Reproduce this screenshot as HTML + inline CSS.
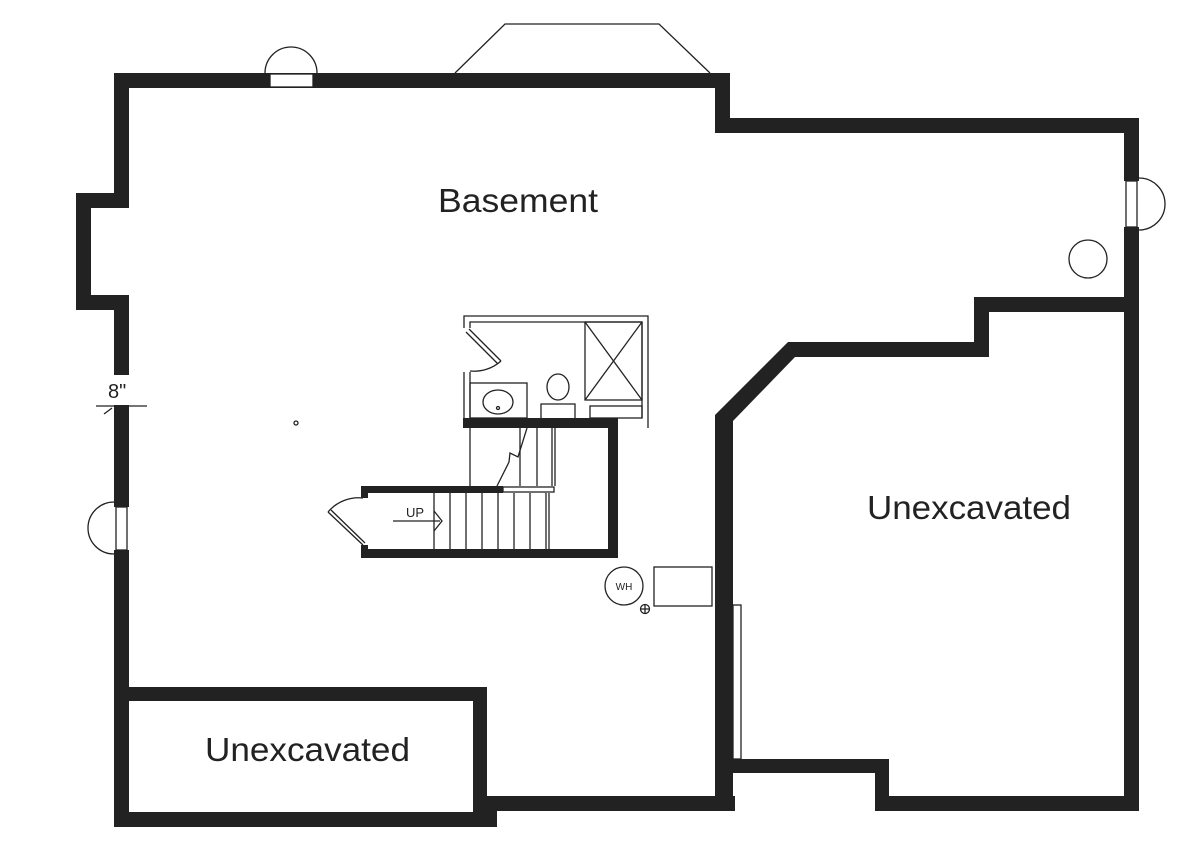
<!DOCTYPE html>
<html><head><meta charset="utf-8"><style>html,body{margin:0;padding:0;background:#fff}svg{display:block}</style></head>
<body>
<svg width="1200" height="861" viewBox="0 0 1200 861" xmlns="http://www.w3.org/2000/svg" font-family="Liberation Sans, sans-serif">
<rect width="1200" height="861" fill="#fff"/>
<g fill="#222">
<rect x="114" y="73" width="616" height="15"/>
<rect x="715" y="73" width="15" height="60"/>
<rect x="715" y="118" width="424" height="15"/>
<rect x="1124" y="118" width="15" height="63"/>
<rect x="1124" y="227" width="15" height="584"/>
<rect x="114" y="73" width="15" height="135"/>
<rect x="76" y="193" width="53" height="15"/>
<rect x="76" y="193" width="15" height="117"/>
<rect x="76" y="295" width="53" height="15"/>
<rect x="114" y="295" width="15" height="80"/>
<rect x="114" y="405" width="15" height="102"/>
<rect x="114" y="550" width="15" height="277"/>
<rect x="114" y="687" width="373" height="14"/>
<rect x="473" y="687" width="14" height="140"/>
<rect x="114" y="812" width="383" height="15"/>
<rect x="487" y="796" width="10" height="31"/>
<rect x="473" y="796" width="262" height="15"/>
<rect x="715" y="415" width="18" height="396"/>
<polygon points="788,342 989,342 989,357 795,357 733,421 715,421 715,415"/>
<rect x="974" y="297" width="15" height="60"/>
<rect x="974" y="297" width="165" height="15"/>
<rect x="715" y="759" width="174" height="14"/>
<rect x="875" y="759" width="14" height="52"/>
<rect x="875" y="796" width="264" height="15"/>
<rect x="463" y="418" width="155" height="10"/>
<rect x="608" y="418" width="10" height="140"/>
<rect x="361" y="549" width="257" height="9"/>
<rect x="361" y="486" width="142" height="7"/>
<rect x="361" y="486" width="7" height="12"/>
<rect x="361" y="545" width="7" height="13"/>
</g>
<g fill="none" stroke="#222" stroke-width="1.3">
<rect x="270" y="74" width="43" height="13" fill="#fff"/>
<path d="M265,73 A26,26 0 0 1 317,73"/>
<rect x="1126" y="181" width="11" height="46" fill="#fff"/>
<path d="M1139,178 A26,26 0 0 1 1139,230"/>
<rect x="116" y="507" width="11" height="43" fill="#fff"/>
<path d="M114,502 A26,26 0 0 0 114,554"/>
<path d="M455,73 L505,24 L659,24 L710,73"/>
<circle cx="1088" cy="259" r="19"/>
<path d="M464,328 L464,316 L648,316 L648,428 M470,328 L470,322 L642,322 L642,418 M464,372 L464,418 M470,372 L470,418"/>
<path d="M469,329 L501,361 M466,332 L498,364"/>
<path d="M501,361 A40,40 0 0 1 470,371"/>
<rect x="585" y="322" width="57" height="78"/>
<path d="M585,322 L642,400 M642,322 L585,400"/>
<rect x="590" y="406" width="52" height="12"/>
<rect x="470" y="383" width="57" height="35"/>
<ellipse cx="498" cy="402" rx="15" ry="12"/>
<circle cx="498" cy="408" r="1.5"/>
<ellipse cx="558" cy="387" rx="11" ry="13"/>
<path d="M541,418 L541,404 L575,404 L575,418"/>
<path d="M470,428 L470,486 M520,428 L520,486 M537,428 L537,486 M552,428 L552,486 M555,428 L555,486"/>
<path d="M497,486 L509,462 L510,453 L518,457 L527,428"/>
<rect x="503" y="487" width="51" height="5"/>
<path d="M434,493 L434,549 M450,493 L450,549 M466,493 L466,549 M482,493 L482,549 M498,493 L498,549 M514,493 L514,549 M530,493 L530,549 M546,493 L546,549 M549,493 L549,549"/>
<path d="M393,521 L440,521 M434,511 L442,521 L434,531"/>
<path d="M328,512 L363,545 M331,510 L365,543"/>
<path d="M328,512 A40,40 0 0 1 363,498"/>
<circle cx="624" cy="586" r="19"/>
<circle cx="645" cy="609" r="4.5"/>
<path d="M640.5,609 L649.5,609 M645,604.5 L645,613.5"/>
<rect x="654" y="567" width="58" height="39"/>
<rect x="733" y="605" width="8" height="154"/>
<path d="M96,406 L147,406 M104,414 L112,408"/>
<circle cx="296" cy="423" r="2"/>
</g>
<text x="624" y="590" font-size="10" text-anchor="middle" fill="#222">WH</text>
<text x="406" y="517" font-size="13" fill="#222">UP</text>
<text x="108" y="398" font-size="20" fill="#222">8"</text>
<text x="438" y="212" font-size="33" fill="#222" textLength="160" lengthAdjust="spacingAndGlyphs">Basement</text>
<text x="867" y="519" font-size="33" fill="#222" textLength="204" lengthAdjust="spacingAndGlyphs">Unexcavated</text>
<text x="205" y="761" font-size="33" fill="#222" textLength="205" lengthAdjust="spacingAndGlyphs">Unexcavated</text>
</svg>
</body></html>
